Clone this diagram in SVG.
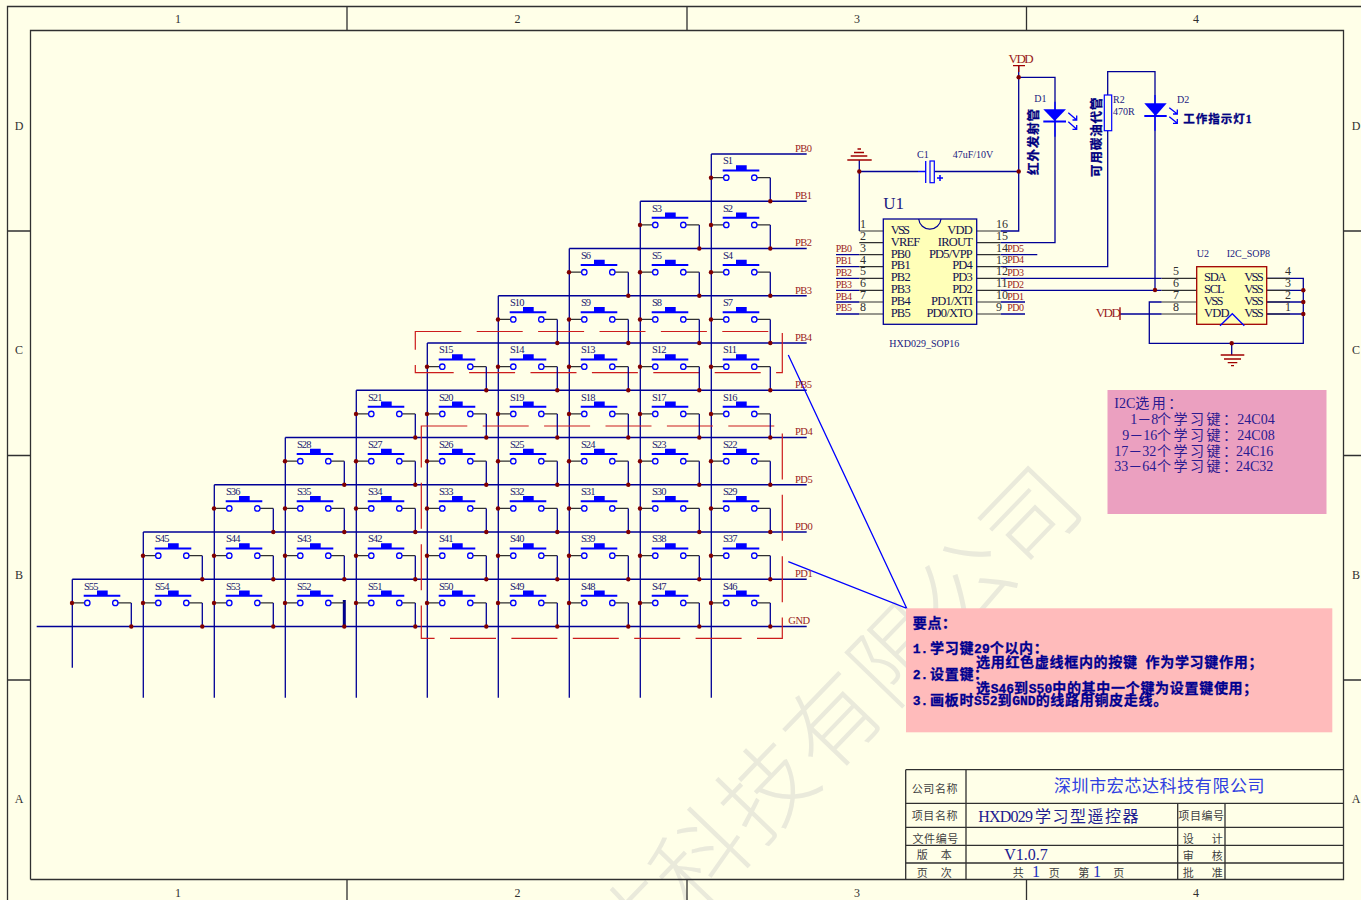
<svg xmlns="http://www.w3.org/2000/svg" width="1361" height="900" viewBox="0 0 1361 900">
<style>
text{font-family:"Liberation Serif","Noto Sans CJK SC",serif}
.w{fill:none;stroke:#000096;stroke-width:1.3}
.k{fill:none;stroke:#303030;stroke-width:1.2}
.b{fill:none;stroke:#0000ff;stroke-width:1.3}
.r{fill:none;stroke:#a00000;stroke-width:1.3}
.f{fill:none;stroke:#303030;stroke-width:1.3}
.dash{fill:none;stroke:#cc1c1c;stroke-width:1.2;stroke-dasharray:46 15.4}
.d{fill:#800000}
.sl{font-size:10.5px;fill:#202070;letter-spacing:-.9px}
.nl{font-size:10.5px;fill:#9a1c1c;letter-spacing:-.5px}
.pl{font-size:10px;fill:#9a1c1c;letter-spacing:-.5px}
.pn{font-size:12px;fill:#303030}
.il{font-size:12.5px;fill:#101050;letter-spacing:-.8px}
.il .t{letter-spacing:-1.8px}
.rf{font-size:10px;fill:#202080}
.fr{font-size:12px;fill:#303030}
.ch{font-size:11px;fill:#404040;letter-spacing:.6px}
.bd{font-size:12.5px;font-weight:700;fill:#000080;letter-spacing:.9px;stroke:#000080;stroke-width:.3px}
.nt{font-size:14px;font-weight:700;fill:#000090;letter-spacing:.7px;stroke:#000090;stroke-width:.3px}
.nt tspan{font-family:"Liberation Mono",monospace;font-size:13px;letter-spacing:0}
.i2{font-size:14px;fill:#2a1a90}
.i2 tspan.c{letter-spacing:2.5px}
</style>
<defs>
<g id="sw">
<path class="k" d="M0 23.7H12.3M45.7 23.7H59"/>
<path class="w" d="M59 23.7V47.25"/>
<path d="M11.4 15.4H48V17.4H11.4ZM24.7 11.3H35.4V16H24.7Z" fill="#0000ff"/>
<circle cx="15" cy="23.7" r="2.7" fill="none" stroke="#0000ff" stroke-width="1.3"/>
<circle cx="43" cy="23.7" r="2.7" fill="none" stroke="#0000ff" stroke-width="1.3"/>
<circle class="d" cx="-.3" cy="23.7" r="2.2"/>
<circle class="d" cx="59" cy="47.25" r="2.2"/>
</g>
</defs>
<rect width="1361" height="900" fill="#ffffe8"/>

<text id="watermark" transform="translate(1033 517) rotate(-46)" x="47" y="32" text-anchor="end" style="font-size:93px;letter-spacing:2px;font-family:'Noto Sans CJK SC',sans-serif;font-weight:300" fill="#eaeadb">深圳市宏芯达科技有限公司</text>

<g id="frame">
<path class="f" d="M7.5 900V6.5H1361M30.5 879.5V30.5H1343.5V879.5H30.5"/>
<path class="f" d="M347 7V30M687 7V30M1026.5 7V30M347 880V900M687 880V900M1026.5 880V900M8 231H30M8 455.500H30M8 680H30M1344 231H1361M1344 455.500H1361M1344 680H1361"/>
<g class="fr" text-anchor="middle">
<text x="178" y="23">1</text><text x="517.500" y="23">2</text><text x="857" y="23">3</text><text x="1196" y="23">4</text>
<text x="178" y="897">1</text><text x="517.500" y="897">2</text><text x="857" y="897">3</text><text x="1196" y="897">4</text>
<text x="19" y="130">D</text><text x="19" y="354">C</text><text x="19" y="579">B</text><text x="19" y="803">A</text>
<text x="1356" y="130">D</text><text x="1356" y="354">C</text><text x="1356" y="579">B</text><text x="1356" y="803">A</text>
</g>
</g>

<g id="connectors">
<path class="w" d="M711.3 154H806.700M640.300 201.250H806.700M569.300 248.500H806.700M498.300 295.750H806.700M427.300 343H806.700M356.300 390.250H806.700M285.300 437.500H806.700M214.300 484.750H806.700M143.300 532H806.700M72.300 579.250H806.700M36.700 626.500H806.700"/>
<path class="w" d="M711.300 154V697.700M640.300 201.250V697.700M569.300 248.500V697.700M498.300 295.750V697.700M427.300 343V697.700M356.300 390.250V697.700M285.300 437.500V697.700M214.300 484.750V697.700M143.300 532V697.700M72.300 579.250V667.700"/>
<path d="M344.300 600V626.500" stroke="#000080" stroke-width="3" fill="none"/>
<path class="dash" d="M415.300 331.500H782.300V372.700H415.300Z"/>
<path class="dash" d="M421.300 426H782.300V638.300H421.300Z"/>
<path class="b" d="M788.300 355L906.700 608.300L788.300 561.700"/>
<path class="w" d="M859.300 160V231M859.300 171.500H918M934.300 171.500H1018.700M1018.700 66V231H1000.700M1018.700 77.300H1055V242.700H1000.700M1000.700 254.700H1037.300M1000.700 266.700H1107.700V71.700H1155V290.300M1000.700 278.300H1161.700M1000.700 290.300H1161.700M1000.700 302H1025M1000.700 314H1025M836 254.700H859.300M836 266.700H859.300M836 278.300H859.300M836 290.300H859.300M836 302H859.300M836 314H859.300"/>
<path class="w" d="M1161.700 302H1149.300V343.300H1303.300V278.300H1266.700M1266.700 290.300H1303.300M1266.700 302H1303.300M1266.700 314H1303.300M1231.700 343.300V355M1120 314H1161.700"/>
<path class="k" d="M859.300 231H883M859.300 242.700H883M859.300 254.700H883M859.300 266.700H883M859.300 278.300H883M859.300 290.300H883M859.300 302H883M859.300 314H883M976.700 231H1000.700M976.700 242.700H1000.700M976.700 254.700H1000.700M976.700 266.700H1000.700M976.700 278.300H1000.700M976.700 290.300H1000.700M976.700 302H1000.700M976.700 314H1000.700M1161.700 278.300H1196.700M1161.700 290.300H1196.700M1161.700 302H1196.700M1161.700 314H1196.700M1266.700 278.300H1290M1266.700 290.300H1290M1266.700 302H1290M1266.700 314H1290"/>
<g class="d">
<circle cx="1018.700" cy="77.300" r="2.200"/><circle cx="1018.700" cy="171.500" r="2.200"/><circle cx="859.300" cy="171.500" r="2.200"/><circle cx="1155" cy="290" r="2.200"/><circle cx="1303.300" cy="290.300" r="2.200"/><circle cx="1303.300" cy="302" r="2.200"/><circle cx="1303.300" cy="314" r="2.200"/><circle cx="1231.700" cy="343.300" r="2.200"/>
</g>
</g>

<g id="nets" class="nl">
<text x="795" y="152">PB0</text><text x="795" y="199">PB1</text><text x="795" y="246">PB2</text><text x="795" y="294">PB3</text><text x="795" y="341">PB4</text><text x="795" y="388">PB5</text><text x="795" y="435">PD4</text><text x="795" y="483">PD5</text><text x="795" y="530">PD0</text><text x="795" y="577">PD1</text><text x="788.300" y="624">GND</text>
</g>

<g id="switches">
<g id="S1" transform="translate(711.3 154)"><use href="#sw"/><text class="sl" x="11.600" y="10.300">S1</text></g>
<g id="S2" transform="translate(711.3 201.25)"><use href="#sw"/><text class="sl" x="11.600" y="10.300">S2</text></g>
<g id="S3" transform="translate(640.3 201.25)"><use href="#sw"/><text class="sl" x="11.600" y="10.300">S3</text></g>
<g id="S4" transform="translate(711.3 248.5)"><use href="#sw"/><text class="sl" x="11.600" y="10.300">S4</text></g>
<g id="S5" transform="translate(640.3 248.5)"><use href="#sw"/><text class="sl" x="11.600" y="10.300">S5</text></g>
<g id="S6" transform="translate(569.3 248.5)"><use href="#sw"/><text class="sl" x="11.600" y="10.300">S6</text></g>
<g id="S7" transform="translate(711.3 295.75)"><use href="#sw"/><text class="sl" x="11.600" y="10.300">S7</text></g>
<g id="S8" transform="translate(640.3 295.75)"><use href="#sw"/><text class="sl" x="11.600" y="10.300">S8</text></g>
<g id="S9" transform="translate(569.3 295.75)"><use href="#sw"/><text class="sl" x="11.600" y="10.300">S9</text></g>
<g id="S10" transform="translate(498.3 295.75)"><use href="#sw"/><text class="sl" x="11.600" y="10.300">S10</text></g>
<g id="S11" transform="translate(711.3 343)"><use href="#sw"/><text class="sl" x="11.600" y="10.300">S11</text></g>
<g id="S12" transform="translate(640.3 343)"><use href="#sw"/><text class="sl" x="11.600" y="10.300">S12</text></g>
<g id="S13" transform="translate(569.3 343)"><use href="#sw"/><text class="sl" x="11.600" y="10.300">S13</text></g>
<g id="S14" transform="translate(498.3 343)"><use href="#sw"/><text class="sl" x="11.600" y="10.300">S14</text></g>
<g id="S15" transform="translate(427.3 343)"><use href="#sw"/><text class="sl" x="11.600" y="10.300">S15</text></g>
<g id="S16" transform="translate(711.3 390.25)"><use href="#sw"/><text class="sl" x="11.600" y="10.300">S16</text></g>
<g id="S17" transform="translate(640.3 390.25)"><use href="#sw"/><text class="sl" x="11.600" y="10.300">S17</text></g>
<g id="S18" transform="translate(569.3 390.25)"><use href="#sw"/><text class="sl" x="11.600" y="10.300">S18</text></g>
<g id="S19" transform="translate(498.3 390.25)"><use href="#sw"/><text class="sl" x="11.600" y="10.300">S19</text></g>
<g id="S20" transform="translate(427.3 390.25)"><use href="#sw"/><text class="sl" x="11.600" y="10.300">S20</text></g>
<g id="S21" transform="translate(356.3 390.25)"><use href="#sw"/><text class="sl" x="11.600" y="10.300">S21</text></g>
<g id="S22" transform="translate(711.3 437.5)"><use href="#sw"/><text class="sl" x="11.600" y="10.300">S22</text></g>
<g id="S23" transform="translate(640.3 437.5)"><use href="#sw"/><text class="sl" x="11.600" y="10.300">S23</text></g>
<g id="S24" transform="translate(569.3 437.5)"><use href="#sw"/><text class="sl" x="11.600" y="10.300">S24</text></g>
<g id="S25" transform="translate(498.3 437.5)"><use href="#sw"/><text class="sl" x="11.600" y="10.300">S25</text></g>
<g id="S26" transform="translate(427.3 437.5)"><use href="#sw"/><text class="sl" x="11.600" y="10.300">S26</text></g>
<g id="S27" transform="translate(356.3 437.5)"><use href="#sw"/><text class="sl" x="11.600" y="10.300">S27</text></g>
<g id="S28" transform="translate(285.3 437.5)"><use href="#sw"/><text class="sl" x="11.600" y="10.300">S28</text></g>
<g id="S29" transform="translate(711.3 484.75)"><use href="#sw"/><text class="sl" x="11.600" y="10.300">S29</text></g>
<g id="S30" transform="translate(640.3 484.75)"><use href="#sw"/><text class="sl" x="11.600" y="10.300">S30</text></g>
<g id="S31" transform="translate(569.3 484.75)"><use href="#sw"/><text class="sl" x="11.600" y="10.300">S31</text></g>
<g id="S32" transform="translate(498.3 484.75)"><use href="#sw"/><text class="sl" x="11.600" y="10.300">S32</text></g>
<g id="S33" transform="translate(427.3 484.75)"><use href="#sw"/><text class="sl" x="11.600" y="10.300">S33</text></g>
<g id="S34" transform="translate(356.3 484.75)"><use href="#sw"/><text class="sl" x="11.600" y="10.300">S34</text></g>
<g id="S35" transform="translate(285.3 484.75)"><use href="#sw"/><text class="sl" x="11.600" y="10.300">S35</text></g>
<g id="S36" transform="translate(214.3 484.75)"><use href="#sw"/><text class="sl" x="11.600" y="10.300">S36</text></g>
<g id="S37" transform="translate(711.3 532)"><use href="#sw"/><text class="sl" x="11.600" y="10.300">S37</text></g>
<g id="S38" transform="translate(640.3 532)"><use href="#sw"/><text class="sl" x="11.600" y="10.300">S38</text></g>
<g id="S39" transform="translate(569.3 532)"><use href="#sw"/><text class="sl" x="11.600" y="10.300">S39</text></g>
<g id="S40" transform="translate(498.3 532)"><use href="#sw"/><text class="sl" x="11.600" y="10.300">S40</text></g>
<g id="S41" transform="translate(427.3 532)"><use href="#sw"/><text class="sl" x="11.600" y="10.300">S41</text></g>
<g id="S42" transform="translate(356.3 532)"><use href="#sw"/><text class="sl" x="11.600" y="10.300">S42</text></g>
<g id="S43" transform="translate(285.3 532)"><use href="#sw"/><text class="sl" x="11.600" y="10.300">S43</text></g>
<g id="S44" transform="translate(214.3 532)"><use href="#sw"/><text class="sl" x="11.600" y="10.300">S44</text></g>
<g id="S45" transform="translate(143.3 532)"><use href="#sw"/><text class="sl" x="11.600" y="10.300">S45</text></g>
<g id="S46" transform="translate(711.3 579.25)"><use href="#sw"/><text class="sl" x="11.600" y="10.300">S46</text></g>
<g id="S47" transform="translate(640.3 579.25)"><use href="#sw"/><text class="sl" x="11.600" y="10.300">S47</text></g>
<g id="S48" transform="translate(569.3 579.25)"><use href="#sw"/><text class="sl" x="11.600" y="10.300">S48</text></g>
<g id="S49" transform="translate(498.3 579.25)"><use href="#sw"/><text class="sl" x="11.600" y="10.300">S49</text></g>
<g id="S50" transform="translate(427.3 579.25)"><use href="#sw"/><text class="sl" x="11.600" y="10.300">S50</text></g>
<g id="S51" transform="translate(356.3 579.25)"><use href="#sw"/><text class="sl" x="11.600" y="10.300">S51</text></g>
<g id="S52" transform="translate(285.3 579.25)"><use href="#sw"/><text class="sl" x="11.600" y="10.300">S52</text></g>
<g id="S53" transform="translate(214.3 579.25)"><use href="#sw"/><text class="sl" x="11.600" y="10.300">S53</text></g>
<g id="S54" transform="translate(143.3 579.25)"><use href="#sw"/><text class="sl" x="11.600" y="10.300">S54</text></g>
<g id="S55" transform="translate(72.3 579.25)"><use href="#sw"/><text class="sl" x="11.600" y="10.300">S55</text></g>
</g>

<g id="VDD1">
<path d="M1013 65.700H1025M1018.700 65.700V72" stroke="#a00000" stroke-width="1.3" fill="none"/>
<text x="1008.500" y="63" style="font-size:13px;letter-spacing:-1.500px" fill="#9a1c1c">VDD</text>
</g>
<g id="GND1">
<path class="r" d="M847.300 160H871.700M850.700 156H867.300M854 152.500H864M857.500 149H861"/>
</g>
<g id="C1">
<path class="b" d="M925.700 161V183M918 171.500H925.700"/>
<rect x="930" y="161" width="4.300" height="21.700" fill="#ffffe8" stroke="#0000ff" stroke-width="1.200"/>
<path class="b" d="M937 178H943M940 175V181" style="stroke-width:1.500"/>
<text class="rf" x="917" y="158">C1</text>
<text class="rf" x="952.700" y="158">47uF/10V</text>
</g>
<g id="D1">
<path d="M1043.300 109.300H1066L1054.700 121Z" fill="#0000ff"/>
<path class="b" d="M1055 101.700V136.700"/>
<path d="M1043.300 121.500H1066" stroke="#0000ff" stroke-width="2" fill="none"/>
<path class="b" d="M1068.300 112.700L1076.700 120M1076.700 115.500V120H1072.500M1068.300 121.700L1076.700 129.300M1076.700 125V129.300H1072.500"/>
<text class="rf" x="1034.300" y="102">D1</text>
<text class="bd" transform="translate(1038 175) rotate(-90)">红外发射管</text>
</g>
<g id="R2">
<rect x="1104.300" y="95" width="7.400" height="35.700" fill="#ffffe8" stroke="#0000ff" stroke-width="1.200"/>
<text class="rf" x="1113" y="103">R2</text>
<text class="rf" x="1113" y="115">470R</text>
<text class="bd" transform="translate(1100.500 177) rotate(-90)">可用碳油代管</text>
</g>
<g id="D2">
<path d="M1144.300 103.300H1166.700L1155.500 116Z" fill="#0000ff"/>
<path class="b" d="M1155 95V130.700"/>
<path d="M1144.300 116H1166.700" stroke="#0000ff" stroke-width="2" fill="none"/>
<path class="b" d="M1169.300 107.700L1177.300 114M1177.300 109.500V114H1173M1169.300 116.700L1177.300 123.300M1177.300 119V123.300H1173"/>
<text class="rf" x="1177" y="103">D2</text>
<text class="bd" x="1183.300" y="122.700" style="font-size:11.500px;letter-spacing:1px">工作指示灯1</text>
</g>

<g id="U1">
<rect x="883.300" y="219" width="93.400" height="105.300" fill="#ffffb8" stroke="#000096" stroke-width="1.300"/>
<path d="M918.700 219A11.200 11.200 0 0 0 941 219" fill="none" stroke="#000096" stroke-width="1.200"/>
<text x="883.300" y="209" style="font-size:17px" fill="#202080">U1</text>
<g class="il">
<text class="t" x="890.700" y="233.700">VSS</text><text x="890.700" y="245.700">VREF</text><text x="890.700" y="257.700">PB0</text><text x="890.700" y="269.300">PB1</text><text x="890.700" y="281">PB2</text><text x="890.700" y="293">PB3</text><text x="890.700" y="305">PB4</text><text x="890.700" y="316.700">PB5</text>
</g>
<g class="il" text-anchor="end">
<text x="972" y="233.700">VDD</text><text x="972" y="245.700">IROUT</text><text x="972" y="257.700">PD5/VPP</text><text x="972" y="269.300">PD4</text><text x="972" y="281">PD3</text><text x="972" y="293">PD2</text><text x="972" y="305">PD1/XTI</text><text x="972" y="316.700">PD0/XTO</text>
</g>
<g class="pn">
<text x="860" y="228.300">1</text><text x="860" y="240">2</text><text x="860" y="252">3</text><text x="860" y="264">4</text><text x="860" y="275">5</text><text x="860" y="287.300">6</text><text x="860" y="299.300">7</text><text x="860" y="311">8</text>
<text x="996" y="228.300">16</text><text x="996" y="240">15</text><text x="996" y="252">14</text><text x="996" y="264">13</text><text x="996" y="275">12</text><text x="996" y="287.300">11</text><text x="996" y="299.300">10</text><text x="996" y="311">9</text>
</g>
<g class="pl">
<text x="835.700" y="252">PB0</text><text x="835.700" y="264">PB1</text><text x="835.700" y="275.700">PB2</text><text x="835.700" y="287.700">PB3</text><text x="835.700" y="300">PB4</text><text x="835.700" y="311">PB5</text>
<text x="1007.300" y="251.700">PD5</text><text x="1007.300" y="263.300">PD4</text><text x="1007.300" y="275.700">PD3</text><text x="1007.300" y="287.700">PD2</text><text x="1007.300" y="300">PD1</text><text x="1007.300" y="310.700">PD0</text>
</g>
<text class="rf" x="889.300" y="346.700">HXD029_SOP16</text>
</g>

<g id="U2">
<rect x="1196.700" y="266.700" width="70" height="57.600" fill="#ffffb8" stroke="#a00000" stroke-width="1.300"/>
<path class="b" d="M1220 325.700L1232.300 313.700L1244.300 325.700"/>
<text class="rf" x="1196.700" y="257">U2</text>
<text class="rf" x="1226.700" y="257">I2C_SOP8</text>
<g class="il">
<text style="letter-spacing:-1.200px" x="1204" y="281">SDA</text><text style="letter-spacing:-1.200px" x="1204" y="293">SCL</text><text class="t" x="1204" y="305">VSS</text><text x="1204" y="317">VDD</text>
<text class="t" x="1244.300" y="281">VSS</text><text class="t" x="1244.300" y="293">VSS</text><text class="t" x="1244.300" y="305">VSS</text><text class="t" x="1244.300" y="317">VSS</text>
</g>
<g class="pn">
<text x="1173" y="275">5</text><text x="1173" y="287.300">6</text><text x="1173" y="299.300">7</text><text x="1173" y="311">8</text>
<text x="1285" y="275">4</text><text x="1285" y="287.300">3</text><text x="1285" y="299.300">2</text><text x="1285" y="311">1</text>
</g>
</g>
<g id="VDD2">
<path class="r" d="M1120 307.300V320"/>
<text x="1095.700" y="316.700" style="font-size:13px;letter-spacing:-1.500px" fill="#9a1c1c">VDD</text>
</g>
<g id="GND2">
<path class="r" d="M1220.700 355H1244.300M1224 359H1241M1227.700 362.700H1237.300M1231 365.700H1234"/>
</g>

<g id="i2c-note">
<rect x="1107.500" y="390" width="219" height="124" fill="#eba0c0"/>
<text class="i2" x="1114.300" y="408.300">I2C<tspan class="c">选用：</tspan></text>
<text class="i2" x="1130.300" y="424.300">1－8<tspan class="c" x="1157">个学习键：</tspan><tspan x="1237.300">24C04</tspan></text>
<text class="i2" x="1122.300" y="440">9－16<tspan class="c" x="1157">个学习键：</tspan><tspan x="1237.300">24C08</tspan></text>
<text class="i2" x="1114.300" y="455.700">17－32<tspan class="c" x="1157">个学习键：</tspan><tspan x="1236">24C16</tspan></text>
<text class="i2" x="1114.300" y="471">33－64<tspan class="c" x="1157">个学习键：</tspan><tspan x="1236">24C32</tspan></text>
</g>

<g id="key-note">
<rect x="906" y="608.300" width="426.300" height="124" fill="#ffbbbb"/>
<text class="nt" x="912.700" y="627.700">要点：</text>
<text class="nt" x="912.700" y="653.300"><tspan>1.</tspan><tspan x="930" style="font:inherit;letter-spacing:.7px">学习键</tspan><tspan>29</tspan>个以内：</text>
<text class="nt" x="976" y="666.700">选用红色虚线框内的按键<tspan> </tspan>作为学习键作用；</text>
<text class="nt" x="912.700" y="679.300"><tspan>2.</tspan><tspan x="930" style="font:inherit;letter-spacing:.7px">设置键：</tspan></text>
<text class="nt" x="976" y="692.700">选<tspan>S46</tspan>到<tspan>S50</tspan>中的其中一个键为设置键使用；</text>
<text class="nt" x="912.700" y="705.300"><tspan>3.</tspan><tspan x="930" style="font:inherit;letter-spacing:.7px">画板时</tspan><tspan>S52</tspan>到<tspan>GND</tspan>的线路用铜皮走线。</text>
</g>

<g id="title-block">
<path class="f" d="M905.700 769.700H1343.500M905.700 803.300H1343.500M905.700 827.300H1343.500M905.700 845.300H1343.500M905.700 863H1343.500M905.700 769.700V879.500M966 769.700V879.500M1177.700 803.300V879.500M1225 803.300V879.500"/>
<g class="ch">
<text x="911.700" y="793">公司名称</text><text x="911.700" y="820">项目名称</text><text x="912.500" y="843.300">文件编号</text>
<text x="916.700" y="859.300">版</text><text x="940.700" y="859.300">本</text><text x="916.700" y="876.700">页</text><text x="940.700" y="876.700">次</text>
<text x="1178.300" y="820">项目编号</text>
<text x="1182.700" y="843">设</text><text x="1211.700" y="843">计</text><text x="1182.700" y="859.500">审</text><text x="1211.700" y="859.500">核</text><text x="1182.700" y="876.700">批</text><text x="1211.700" y="876.700">准</text>
<text x="1012.700" y="877">共</text><text x="1048.700" y="877">页</text><text x="1078.300" y="877">第</text><text x="1113.300" y="877">页</text>
</g>
<text x="1054" y="792" style="font-size:17px;letter-spacing:.6px" fill="#3040e0">深圳市宏芯达科技有限公司</text>
<text x="978.300" y="821.700" style="font-size:16px;letter-spacing:-.8px" fill="#202090">HXD029<tspan x="1035" style="letter-spacing:1.500px">学习型遥控器</tspan></text>
<text x="1004.300" y="860" style="font-size:16px" fill="#202090">V1.0.7</text>
<text x="1032" y="877" style="font-size:16px" fill="#2030c0">1</text>
<text x="1093" y="877" style="font-size:16px" fill="#2030c0">1</text>
</g>
</svg>
